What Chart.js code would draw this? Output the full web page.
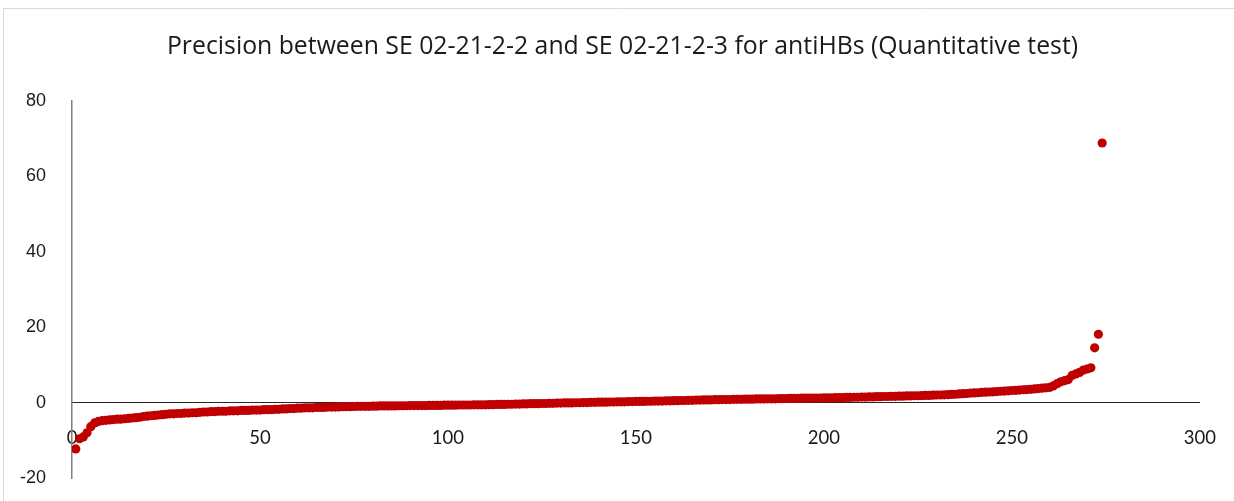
<!DOCTYPE html>
<html>
<head>
<meta charset="utf-8">
<script src="https://cdn.jsdelivr.net/npm/chart.js@4.4.1/dist/chart.umd.min.js"></script>
<style>
  html, body { margin: 0; padding: 0; background: #ffffff; }
  #wrap { position: relative; width: 1234px; height: 501px; }
  canvas { display: block; }
</style>
</head>
<body>
<div id="wrap"><canvas id="c" width="1234" height="501"></canvas></div>
<script>
const chartTitle = 'Precision between SE 02-21-2-2 and SE 02-21-2-3 for antiHBs (Quantitative test)';

// Sorted differences, sample index 1..274
const sampleIndex = [];
for (let i = 1; i <= 274; i++) sampleIndex.push(i);

const differences = [
  -12.3, -9.6, -9.1, -8.0, -6.4, -5.4, -5.0, -4.8, -4.7, -4.6,
  -4.5, -4.4, -4.4, -4.3, -4.2, -4.1, -4.0, -3.9, -3.7, -3.6,
  -3.5, -3.4, -3.3, -3.2, -3.1, -3.0, -3.0, -2.9, -2.9, -2.8,
  -2.8, -2.7, -2.7, -2.6, -2.5, -2.5, -2.4, -2.4, -2.3, -2.3,
  -2.3, -2.2, -2.2, -2.2, -2.1, -2.1, -2.1, -2.0, -2.0, -2.0,
  -1.9, -1.9, -1.9, -1.8, -1.8, -1.7, -1.7, -1.6, -1.6, -1.5,
  -1.5, -1.4, -1.4, -1.4, -1.3, -1.3, -1.3, -1.2, -1.2, -1.2,
  -1.15, -1.1, -1.1, -1.1, -1.05, -1.0, -1.0, -1.0, -1.0, -0.95,
  -0.95, -0.9, -0.9, -0.9, -0.9, -0.9, -0.85, -0.85, -0.85, -0.8,
  -0.8, -0.8, -0.8, -0.8, -0.75, -0.75, -0.75, -0.75, -0.7, -0.7,
  -0.7, -0.7, -0.65, -0.65, -0.65, -0.65, -0.6, -0.6, -0.6, -0.6,
  -0.55, -0.55, -0.5, -0.5, -0.5, -0.45, -0.45, -0.4, -0.4, -0.35,
  -0.35, -0.3, -0.3, -0.3, -0.25, -0.25, -0.2, -0.2, -0.15, -0.15,
  -0.1, -0.1, -0.1, -0.05, -0.05, 0.0, 0.0, 0.05, 0.05, 0.1,
  0.1, 0.1, 0.15, 0.15, 0.2, 0.2, 0.2, 0.25, 0.25, 0.3,
  0.3, 0.3, 0.35, 0.35, 0.4, 0.4, 0.4, 0.45, 0.45, 0.5,
  0.5, 0.55, 0.55, 0.6, 0.6, 0.65, 0.65, 0.7, 0.7, 0.7,
  0.75, 0.75, 0.8, 0.8, 0.8, 0.85, 0.85, 0.85, 0.9, 0.9,
  0.9, 0.95, 0.95, 0.95, 1.0, 1.0, 1.0, 1.05, 1.05, 1.05,
  1.1, 1.1, 1.1, 1.15, 1.15, 1.15, 1.2, 1.2, 1.2, 1.25,
  1.25, 1.25, 1.3, 1.3, 1.3, 1.35, 1.35, 1.4, 1.4, 1.45,
  1.45, 1.5, 1.5, 1.55, 1.55, 1.6, 1.6, 1.65, 1.65, 1.7,
  1.7, 1.75, 1.75, 1.8, 1.8, 1.85, 1.9, 1.9, 1.95, 2.0,
  2.0, 2.05, 2.1, 2.15, 2.2, 2.3, 2.35, 2.4, 2.5, 2.55,
  2.6, 2.7, 2.75, 2.8, 2.85, 2.9, 3.0, 3.05, 3.1, 3.2,
  3.25, 3.3, 3.4, 3.45, 3.5, 3.6, 3.7, 3.8, 3.9, 4.0,
  4.4, 5.0, 5.5, 5.8, 6.1, 7.2, 7.6, 8.0, 8.6, 8.9, 9.2,
  14.5, 18.1, 68.8
];

const xTicks = [0, 50, 100, 150, 200, 250, 300];
const yTicks = [-20, 0, 20, 40, 60, 80];

const points = sampleIndex.map((x, i) => ({ x: x, y: differences[i] }));

const frameBorder = {
  id: 'frameBorder',
  beforeDraw(chart) {
    const ctx = chart.ctx;
    ctx.save();
    ctx.fillStyle = '#ffffff';
    ctx.fillRect(0, 0, chart.width, chart.height);
    ctx.strokeStyle = '#d9d9d9';
    ctx.lineWidth = 1;
    ctx.beginPath();
    ctx.moveTo(3.5, chart.height);
    ctx.lineTo(3.5, 8.5);
    ctx.lineTo(chart.width, 8.5);
    ctx.stroke();
    ctx.restore();
  }
};

new Chart(document.getElementById('c'), {
  type: 'scatter',
  data: {
    datasets: [{
      data: points,
      backgroundColor: '#C00000',
      borderColor: '#C00000',
      borderWidth: 0,
      pointRadius: 4.6,
      pointHoverRadius: 4.6
    }]
  },
  options: {
    responsive: false,
    animation: false,
    devicePixelRatio: 1,
    layout: { padding: { left: 0, right: -11, top: 0, bottom: 23 } },
    plugins: {
      legend: { display: false },
      tooltip: { enabled: false },
      title: {
        display: true,
        text: chartTitle,
        color: '#1a1a1a',
        font: { family: 'Open Sans', size: 24.8, weight: 'normal', lineHeight: 1.2 },
        padding: { top: 32, bottom: 39 }
      }
    },
    scales: {
      x: {
        type: 'linear',
        position: { y: 0 },
        min: 0,
        max: 300,
        afterBuildTicks(scale) { scale.ticks = xTicks.map(v => ({ value: v })); },
        grid: { display: true, drawOnChartArea: false, drawTicks: true, tickLength: 6, color: 'rgba(0,0,0,0)' },
        border: { display: true, color: '#262626', width: 1 },
        ticks: {
          padding: 18,
          color: '#1a1a1a',
          maxRotation: 0,
          font: { family: 'Lato', size: 18.5 }
        }
      },
      y: {
        type: 'linear',
        position: 'left',
        min: -20,
        max: 80,
        afterBuildTicks(scale) { scale.ticks = yTicks.map(v => ({ value: v })); },
        afterFit(scale) { scale.width = 72; },
        grid: { display: true, drawOnChartArea: false, drawTicks: true, tickLength: 26, color: 'rgba(0,0,0,0)' },
        border: { display: true, color: '#7f7f7f', width: 1.5 },
        ticks: {
          padding: 0,
          color: '#1a1a1a',
          font: { family: 'Liberation Sans', size: 18 }
        }
      }
    }
  },
  plugins: [frameBorder]
});
</script>
</body>
</html>
